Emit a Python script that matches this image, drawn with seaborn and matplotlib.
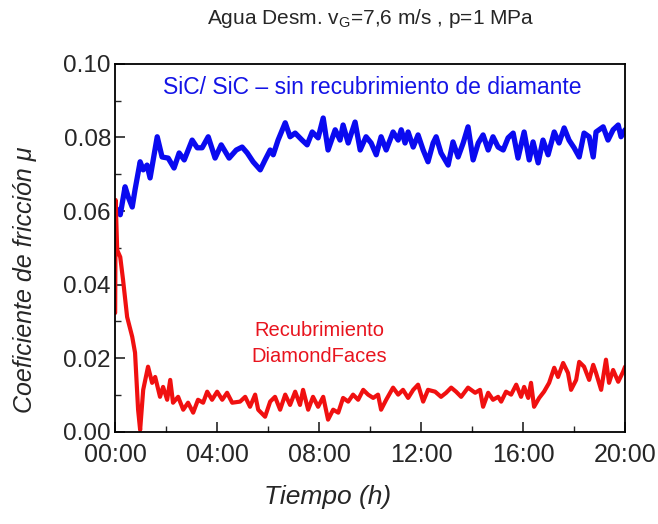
import matplotlib
matplotlib.use("Agg")
import matplotlib.pyplot as plt
import seaborn as sns
import pandas as pd
from matplotlib.ticker import MultipleLocator

# -------------------------
# Data
# -------------------------
sic_t = [0.00, 0.08, 0.20, 0.39, 0.51, 0.67, 0.78, 0.98, 1.10, 1.25, 1.37, 1.65, 1.84, 2.08,
         2.31, 2.51, 2.71, 3.02, 3.22, 3.41, 3.65, 3.92, 4.16, 4.47, 4.75, 4.98, 5.18, 5.41,
         5.69, 5.88, 6.08, 6.20, 6.39, 6.67, 6.86, 7.06, 7.33, 7.53, 7.73, 7.96, 8.16, 8.35,
         8.63, 8.82, 8.94, 9.14, 9.41, 9.61, 9.84, 10.04, 10.24, 10.43, 10.63, 10.90, 11.10,
         11.22, 11.37, 11.49, 11.69, 11.88, 12.08, 12.27, 12.47, 12.59, 12.78, 13.06, 13.25,
         13.45, 13.65, 13.84, 14.04, 14.24, 14.43, 14.63, 14.82, 15.02, 15.22, 15.41, 15.61,
         15.80, 16.04, 16.24, 16.39, 16.59, 16.78, 16.98, 17.22, 17.41, 17.61, 17.80, 18.00,
         18.20, 18.39, 18.59, 18.75, 18.86, 19.14, 19.33, 19.53, 19.73, 19.84, 20.00]
sic_mu = [0.0611, 0.0603, 0.0590, 0.0666, 0.0639, 0.0611, 0.0658, 0.0734, 0.0712, 0.0725,
          0.0690, 0.0802, 0.0747, 0.0744, 0.0717, 0.0758, 0.0739, 0.0793, 0.0772, 0.0772,
          0.0802, 0.0744, 0.0780, 0.0744, 0.0766, 0.0774, 0.0758, 0.0734, 0.0712, 0.0739,
          0.0766, 0.0753, 0.0793, 0.0840, 0.0802, 0.0812, 0.0793, 0.0780, 0.0815, 0.0799,
          0.0853, 0.0766, 0.0821, 0.0793, 0.0834, 0.0785, 0.0842, 0.0766, 0.0802, 0.0785,
          0.0753, 0.0802, 0.0766, 0.0815, 0.0793, 0.0821, 0.0785, 0.0815, 0.0774, 0.0807,
          0.0766, 0.0734, 0.0785, 0.0802, 0.0758, 0.0725, 0.0788, 0.0747, 0.0785, 0.0829,
          0.0739, 0.0785, 0.0807, 0.0766, 0.0802, 0.0774, 0.0766, 0.0799, 0.0812, 0.0744,
          0.0815, 0.0739, 0.0788, 0.0731, 0.0793, 0.0753, 0.0815, 0.0785, 0.0826, 0.0793,
          0.0772, 0.0747, 0.0812, 0.0802, 0.0747, 0.0815, 0.0829, 0.0793, 0.0821, 0.0834,
          0.0802, 0.0821]

dia_t = [0.00, 0.02, 0.08, 0.20, 0.31, 0.47, 0.67, 0.78, 0.90, 0.98, 1.10, 1.29, 1.45, 1.57,
         1.76, 1.88, 2.04, 2.16, 2.27, 2.47, 2.67, 2.86, 3.06, 3.25, 3.45, 3.61, 3.80, 4.00,
         4.20, 4.39, 4.59, 4.90, 5.10, 5.29, 5.49, 5.61, 5.88, 6.08, 6.27, 6.47, 6.67, 6.86,
         7.06, 7.25, 7.37, 7.57, 7.76, 7.96, 8.16, 8.35, 8.55, 8.75, 8.94, 9.14, 9.33, 9.53,
         9.73, 9.92, 10.12, 10.31, 10.43, 10.63, 10.90, 11.10, 11.29, 11.49, 11.69, 11.88,
         12.08, 12.27, 12.55, 12.78, 12.98, 13.18, 13.37, 13.57, 13.84, 14.12, 14.31, 14.43,
         14.63, 14.82, 15.02, 15.14, 15.33, 15.53, 15.73, 15.92, 16.04, 16.20, 16.31, 16.43,
         16.63, 16.82, 17.02, 17.22, 17.37, 17.57, 17.76, 17.88, 18.08, 18.20, 18.39, 18.59,
         18.75, 18.86, 19.06, 19.25, 19.37, 19.53, 19.73, 19.92, 20.00]
dia_mu = [0.0323, 0.0630, 0.0494, 0.0475, 0.0413, 0.0312, 0.0258, 0.0215, 0.0060, 0.0005,
          0.0114, 0.0177, 0.0133, 0.0149, 0.0095, 0.0122, 0.0087, 0.0141, 0.0079, 0.0095,
          0.0060, 0.0079, 0.0052, 0.0087, 0.0079, 0.0109, 0.0087, 0.0109, 0.0087, 0.0106,
          0.0079, 0.0082, 0.0095, 0.0068, 0.0101, 0.0060, 0.0041, 0.0082, 0.0095, 0.0060,
          0.0101, 0.0073, 0.0109, 0.0073, 0.0114, 0.0060, 0.0095, 0.0068, 0.0095, 0.0033,
          0.0060, 0.0052, 0.0092, 0.0082, 0.0101, 0.0087, 0.0114, 0.0101, 0.0092, 0.0101,
          0.0060, 0.0087, 0.0120, 0.0101, 0.0114, 0.0092, 0.0114, 0.0128, 0.0082, 0.0114,
          0.0109, 0.0095, 0.0106, 0.0120, 0.0109, 0.0095, 0.0120, 0.0106, 0.0114, 0.0068,
          0.0106, 0.0087, 0.0095, 0.0082, 0.0109, 0.0101, 0.0128, 0.0095, 0.0122, 0.0092,
          0.0133, 0.0068, 0.0092, 0.0109, 0.0133, 0.0174, 0.0149, 0.0187, 0.0160, 0.0114,
          0.0141, 0.0190, 0.0177, 0.0141, 0.0182, 0.0160, 0.0114, 0.0196, 0.0133, 0.0168,
          0.0136, 0.0163, 0.0177]

x_ticks = [0, 4, 8, 12, 16, 20]
x_labels = ["00:00", "04:00", "08:00", "12:00", "16:00", "20:00"]
y_ticks = [0.00, 0.02, 0.04, 0.06, 0.08, 0.10]

# -------------------------
# Plot
# -------------------------
sns.set_style("ticks")
plt.rcParams["font.family"] = ["Liberation Sans", "DejaVu Sans"]

fig = plt.figure(figsize=(6.58, 5.24), dpi=100)
ax = fig.add_axes([0.175, 0.176, 0.775, 0.702])

sic = pd.DataFrame({"t": sic_t, "mu": sic_mu})
dia = pd.DataFrame({"t": dia_t, "mu": dia_mu})

sns.lineplot(data=sic, x="t", y="mu", color="#0a0af0", lw=3.8, estimator=None, sort=False, ax=ax)
sns.lineplot(data=dia, x="t", y="mu", color="#f01010", lw=3.0, estimator=None, sort=False, ax=ax)

ax.set_xlim(0, 20)
ax.set_ylim(0, 0.10)
ax.set_xticks(x_ticks)
ax.set_xticklabels(x_labels)
ax.set_yticks(y_ticks)
ax.set_yticklabels([f"{v:.2f}" for v in y_ticks])
ax.xaxis.set_minor_locator(MultipleLocator(2))
ax.yaxis.set_minor_locator(MultipleLocator(0.01))
ax.tick_params(which="major", direction="in", length=7, width=1.2)
ax.tick_params(axis="x", which="major", pad=8, labelsize=18)
ax.tick_params(axis="y", which="major", pad=3, labelsize=17.5)
ax.tick_params(which="minor", direction="in", length=4, width=1.0)
ax.tick_params(top=False, right=False, which="both")
for s in ax.spines.values():
    s.set_linewidth(1.3)
    s.set_color("black")

ax.set_xlabel("")
ax.set_ylabel("")
fig.text(0.498, 0.052, "Tiempo (h)", ha="center", va="center", fontsize=19, style="italic")
fig.text(0.038, 0.466, "Coeficiente de fricción μ", ha="center", va="center",
         rotation=90, fontsize=18, style="italic")

fig.text(0.564, 0.965, "Agua Desm. v$_\\mathregular{G}$=7,6 m/s , p=1 MPa",
         ha="center", va="center", fontsize=15)
ax.text(10.1, 0.0935, "SiC/ SiC – sin recubrimiento de diamante",
        ha="center", va="center", fontsize=16.5, color="#1414e6")
ax.text(8.0, 0.0240, "Recubrimiento\nDiamondFaces", ha="center", va="center",
        fontsize=14.5, color="#e8141e", linespacing=1.45)

fig.savefig("out.png", dpi=100)
